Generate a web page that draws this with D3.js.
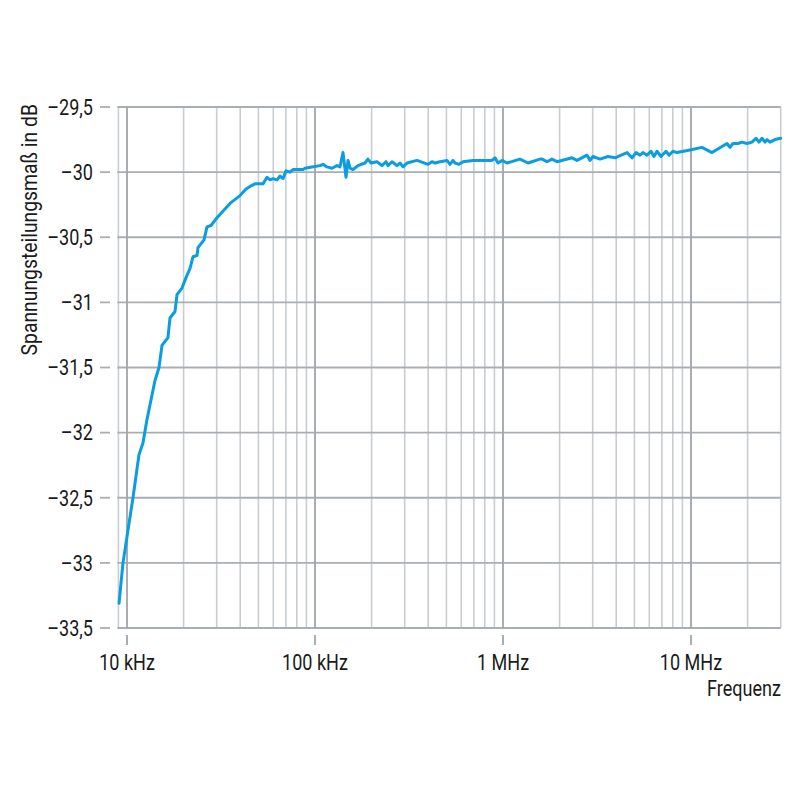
<!DOCTYPE html>
<html><head><meta charset="utf-8">
<script src="https://cdn.jsdelivr.net/npm/d3@7"></script>
<style>
html,body{margin:0;padding:0;background:#fff;}
text{font-family:"Roboto","Liberation Sans",sans-serif;fill:#1a1a1a;}
</style></head><body>
<svg id="c" width="800" height="800"></svg>
<script>
// frequencies in kHz
const freqKHz = [9.07,9.52,10,10.76,11.58,12.16,12.77,14.09,14.8,15.35,16.52,16.93,18.0,18.45,19.61,20.6,21.63,22.44,23.57,23.86,25.68,26.64,27.98,30.11,35.31,39.92,42.96,45.12,47.97,52.9,55.56,57.64,59.79,62.81,65.16,67.6,70.12,73.62,76.38,86.36,88.5,96.39,106.3,110.3,115.8,123.1,130.9,135.8,140.9,146.2,149.8,153.6,159.3,169.3,184.5,191.3,198.6,213.7,227.2,238.6,244.5,256.8,273.1,283.3,293.9,308.6,348.8,399.2,419.2,434.9,462.3,503.7,522.6,542,555.6,583.4,612.7,692.7,874.1,906.8,940.7,987.9,1050,1231,1358,1573,1612,1714,1822,1938,2328,2475,2798,2903,3011,3281,3619,3942,4566,4856,5099,5355,5556,5834,6127,6357,6595,6927,7362,7638,8022,8424,9879,11440,12930,15540,16120,16720,17780,18670,19860,21110,22170,23000,23860,24750,25370,26320,27980,30000];
const attenDB = [-33.31,-33.0,-32.8,-32.5,-32.17,-32.08,-31.9,-31.6,-31.5,-31.33,-31.27,-31.12,-31.07,-30.94,-30.89,-30.81,-30.74,-30.65,-30.64,-30.58,-30.52,-30.42,-30.41,-30.35,-30.24,-30.18,-30.13,-30.11,-30.09,-30.09,-30.04,-30.06,-30.05,-30.06,-30.03,-30.05,-29.99,-30.0,-29.98,-29.98,-29.97,-29.96,-29.95,-29.94,-29.96,-29.97,-29.95,-29.96,-29.85,-30.04,-29.91,-29.97,-29.98,-29.95,-29.93,-29.9,-29.93,-29.92,-29.95,-29.92,-29.95,-29.92,-29.95,-29.93,-29.96,-29.93,-29.91,-29.94,-29.92,-29.93,-29.92,-29.91,-29.94,-29.91,-29.93,-29.94,-29.92,-29.91,-29.91,-29.89,-29.93,-29.91,-29.93,-29.9,-29.93,-29.9,-29.9,-29.92,-29.9,-29.92,-29.89,-29.91,-29.87,-29.91,-29.88,-29.9,-29.88,-29.89,-29.85,-29.89,-29.85,-29.87,-29.85,-29.87,-29.84,-29.88,-29.84,-29.88,-29.84,-29.87,-29.84,-29.85,-29.83,-29.81,-29.85,-29.78,-29.81,-29.78,-29.78,-29.77,-29.78,-29.77,-29.74,-29.77,-29.74,-29.77,-29.75,-29.77,-29.75,-29.74];
const yTicks = [-29.5,-30,-30.5,-31,-31.5,-32,-32.5,-33,-33.5];
const xMajorKHz = [10,100,1000,10000];
const xTickLabels = ["10 kHz","100 kHz","1 MHz","10 MHz"];
const yTitle = "Spannungsteilungsmaß in dB";
const xTitle = "Frequenz";

const L=118.4, R=780.7, T=107, B=628;
const FS=21.5, SX=0.84;
const svg=d3.select("#c");
const x=d3.scaleLog().domain([9,30000]).range([L,R]);
const y=d3.scaleLinear().domain([-33.5,-29.5]).range([B,T]);

// minor vertical grid
const minors=[9];
[10,100,1000,10000].forEach(d=>{for(let k=2;k<10;k++){const v=d*k; if(v<=30000) minors.push(v);}});
const g=svg.append("g");
g.selectAll("line.mn").data(minors).join("line")
 .attr("x1",d=>x(d)).attr("x2",d=>x(d)).attr("y1",T).attr("y2",B)
 .attr("stroke","#c9cdd1").attr("stroke-width",1.6);
// horizontal grid
g.selectAll("line.h").data(yTicks).join("line")
 .attr("x1",L-1).attr("x2",R).attr("y1",d=>y(d)).attr("y2",d=>y(d))
 .attr("stroke","#a9aeb3").attr("stroke-width",1.8);
// major vertical
g.selectAll("line.mj").data(xMajorKHz).join("line")
 .attr("x1",d=>x(d)).attr("x2",d=>x(d)).attr("y1",T).attr("y2",B)
 .attr("stroke","#a0a5ab").attr("stroke-width",1.8);

// y axis ticks and labels
const fmt=v=>{let s=String(Math.abs(v)).replace(".",","); return (v<0?"\u2013":"")+s;};
const ya=svg.append("g");
ya.selectAll("line").data(yTicks).join("line")
 .attr("x1",100).attr("x2",110).attr("y1",d=>y(d)).attr("y2",d=>y(d))
 .attr("stroke","#a9aeb3").attr("stroke-width",1.8);
ya.selectAll("text").data(yTicks).join("text")
 .attr("transform",d=>`translate(93,${y(d)+7.8}) scale(${SX},1)`)
 .attr("text-anchor","end").attr("font-size",FS).text(fmt);

// x axis ticks and labels
const xa=svg.append("g");
xa.selectAll("line").data(xMajorKHz).join("line")
 .attr("x1",d=>x(d)).attr("x2",d=>x(d)).attr("y1",635).attr("y2",645)
 .attr("stroke","#a0a5ab").attr("stroke-width",1.8);
xa.selectAll("text").data(xMajorKHz).join("text")
 .attr("transform",d=>`translate(${x(d)},670) scale(${SX},1)`)
 .attr("text-anchor","middle").attr("font-size",FS).text((d,i)=>xTickLabels[i]);
svg.append("text").attr("transform",`translate(781,696) scale(${SX},1)`)
 .attr("text-anchor","end").attr("font-size",FS).text(xTitle);
svg.append("text").attr("transform","translate(37,104) rotate(-90) scale(0.9,1)")
 .attr("text-anchor","end").attr("font-size",FS).text(yTitle);

// data line
const data=freqKHz.map((f,i)=>({f,v:attenDB[i]}));
svg.append("path").datum(data)
 .attr("d",d3.line().x(d=>x(d.f)).y(d=>y(d.v)))
 .attr("fill","none").attr("stroke","#0a9de0").attr("stroke-width",3)
 .attr("stroke-linejoin","round").attr("stroke-linecap","round");
</script></body></html>
